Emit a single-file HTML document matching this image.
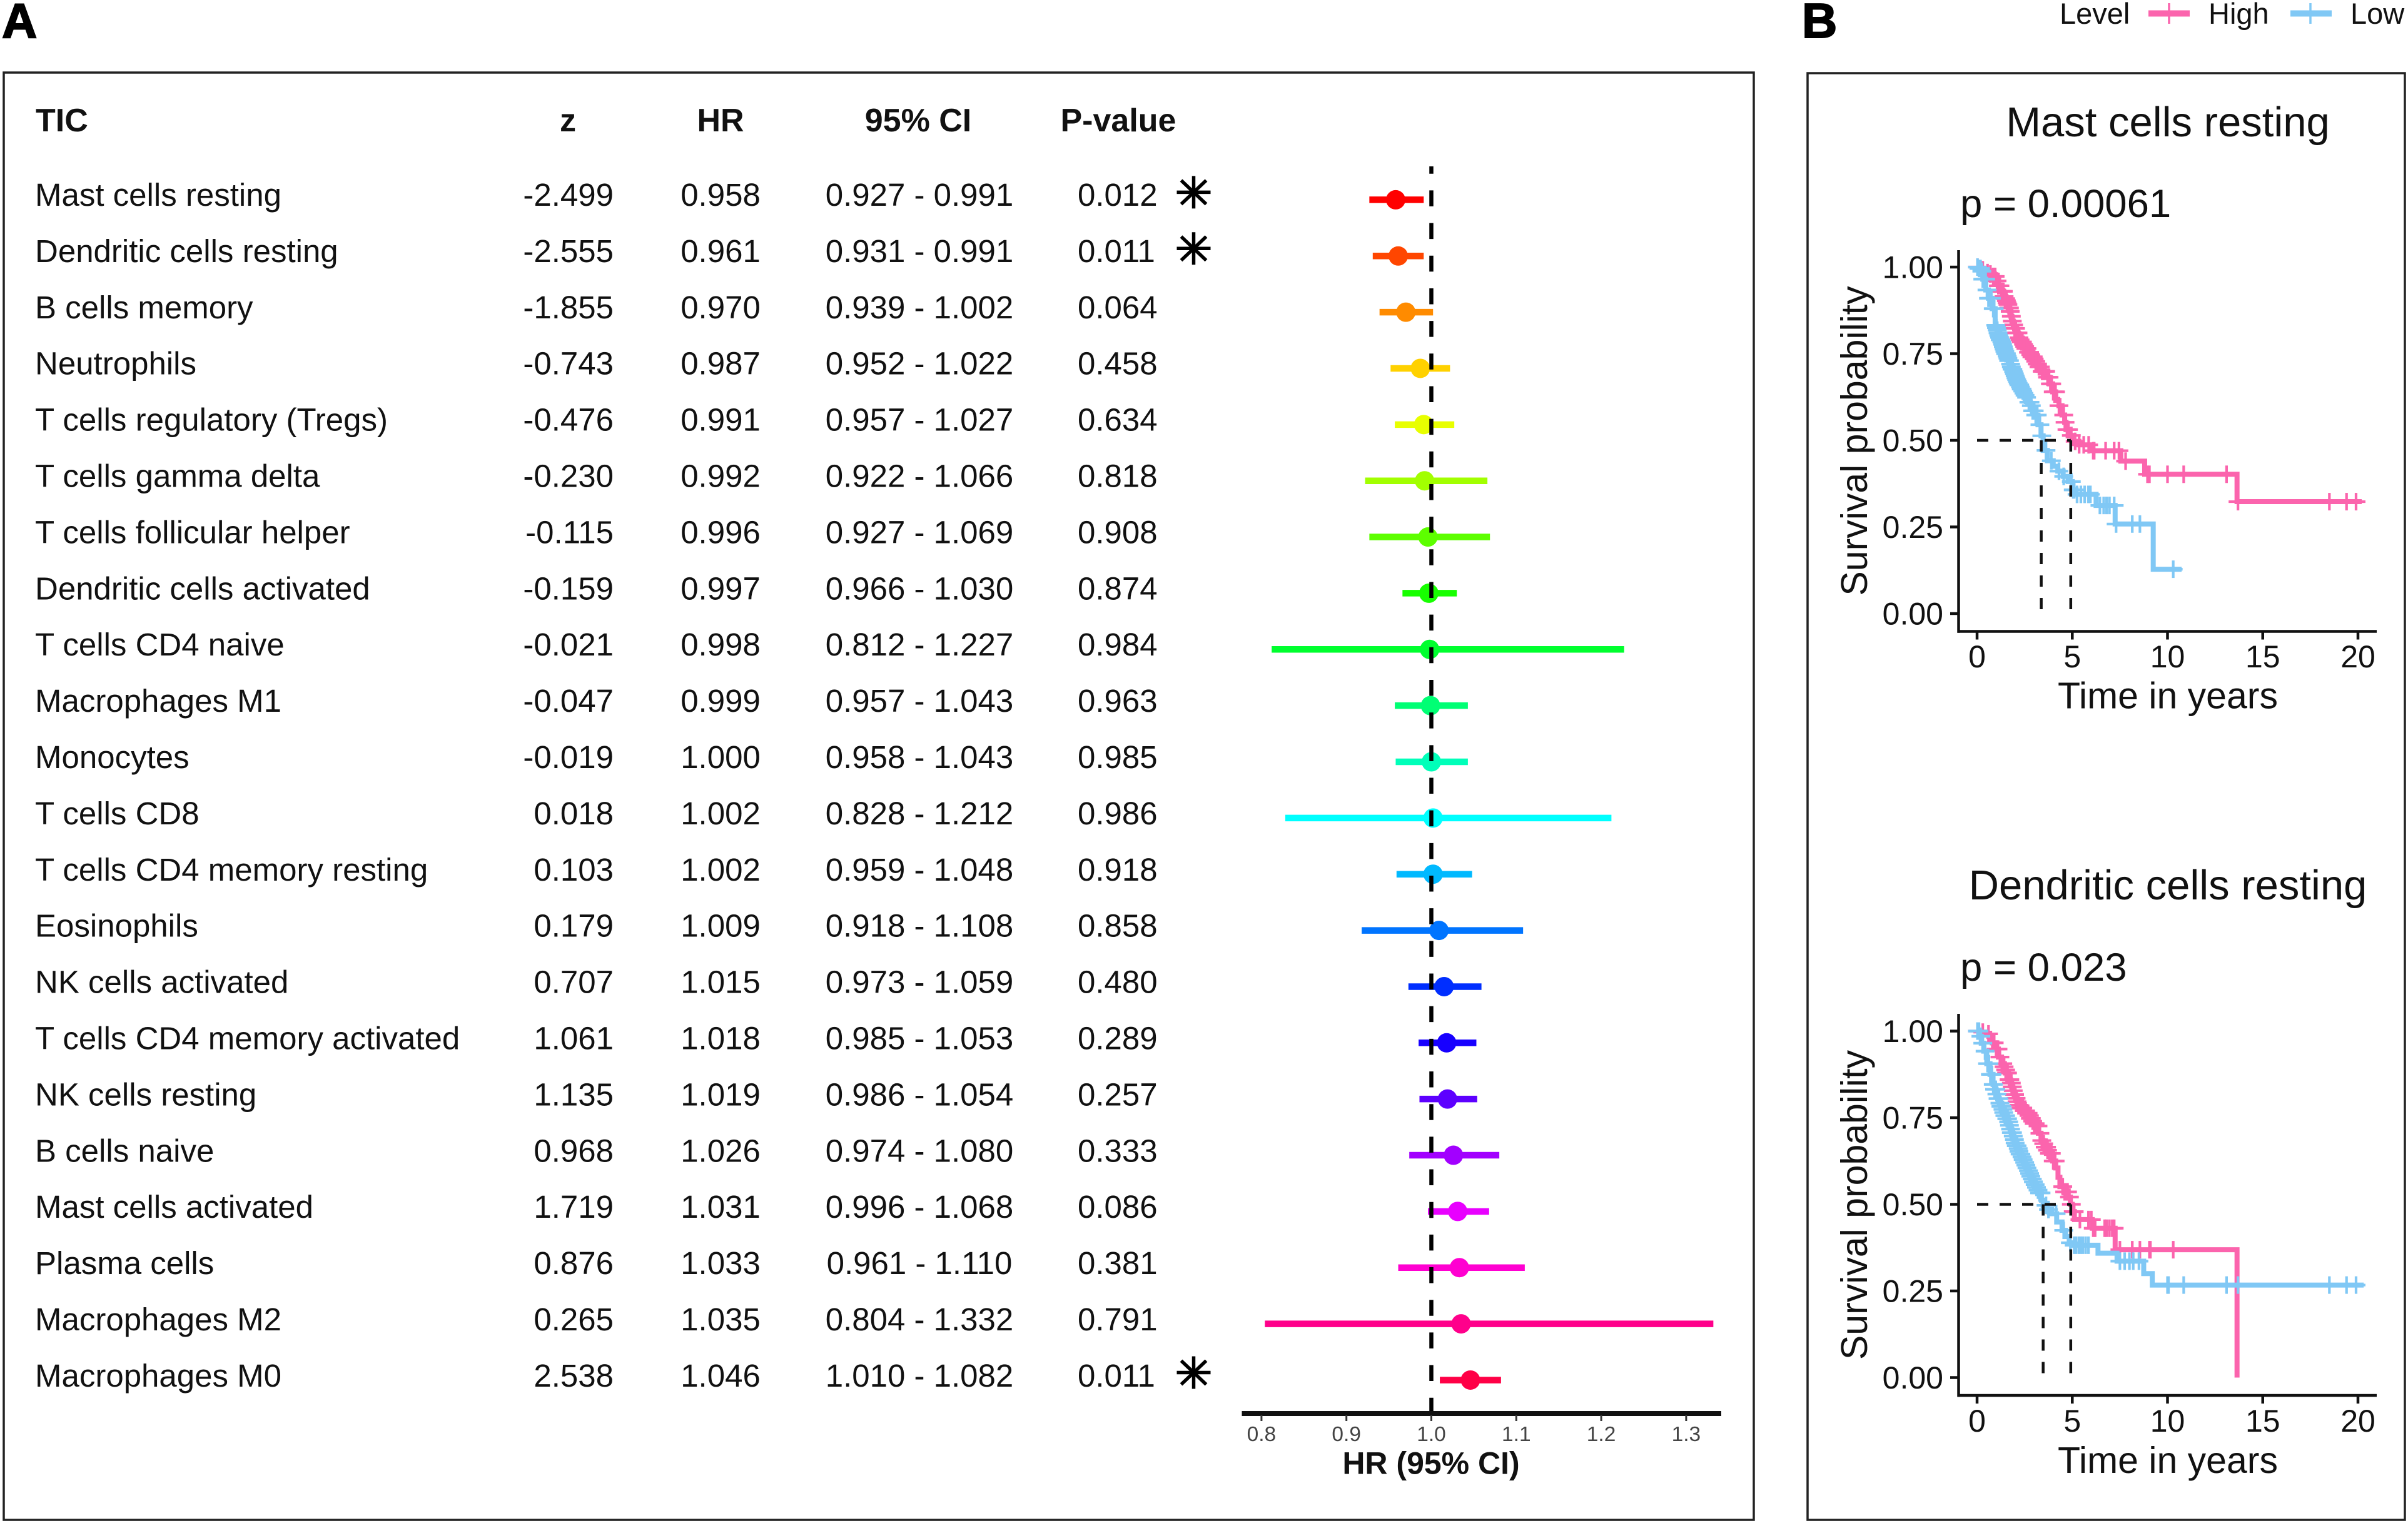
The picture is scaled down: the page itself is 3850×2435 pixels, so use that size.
<!DOCTYPE html>
<html lang="en">
<head>
<meta charset="utf-8">
<title>TIC forest plot and survival curves</title>
<style>
html,body{margin:0;padding:0;background:#fff;}
svg{display:block;font-family:"Liberation Sans",Arial,sans-serif;fill:#000;}
.row-text{font-size:51px;fill:#111;}
.head{font-size:52px;font-weight:700;fill:#111;}
.panel-label{font-size:78px;font-weight:700;stroke:#000;stroke-width:2px;}
.frame{fill:none;stroke:#222;stroke-width:3.5;}
.km-title{font-size:67px;text-anchor:middle;fill:#111;}
.km-p{font-size:63.5px;fill:#111;}
.km-tick{font-size:50px;fill:#111;}
.km-axis-title{font-size:59px;text-anchor:middle;fill:#111;}
.km-y-title{font-size:59px;text-anchor:middle;fill:#111;}
.legend{font-size:47px;fill:#111;}
</style>
</head>
<body>
<svg id="fig" xmlns="http://www.w3.org/2000/svg" width="3850" height="2435" viewBox="0 0 3850 2435">
  <rect x="0" y="0" width="3850" height="2435" fill="#fff"/>
  <text class="panel-label" x="3" y="60">A</text>
  <text class="panel-label" x="2881" y="60">B</text>
  <rect class="frame" x="6" y="116" width="2798" height="2314"/>
  <rect class="frame" x="2890" y="117" width="955" height="2313"/>

  <text class="head" x="57" y="210">TIC</text>
  <text class="head" x="908" y="210" text-anchor="middle">z</text>
  <text class="head" x="1152" y="210" text-anchor="middle">HR</text>
  <text class="head" x="1468" y="210" text-anchor="middle">95% CI</text>
  <text class="head" x="1788" y="210" text-anchor="middle">P-value</text>

  <g id="table"></g>
  <g id="forest"></g>

  <g>
    <text class="legend" x="3293" y="38">Level</text>
    <g>
      <line x1="3435" y1="21.5" x2="3501" y2="21.5" stroke="#FB64AD" stroke-width="10"/>
      <line x1="3468" y1="5" x2="3468" y2="38" stroke="#FB64AD" stroke-width="3.5"/>
    </g>
    <text class="legend" x="3531" y="38">High</text>
    <g>
      <line x1="3662" y1="21.5" x2="3728" y2="21.5" stroke="#80C8F5" stroke-width="10"/>
      <line x1="3694" y1="5" x2="3694" y2="38" stroke="#80C8F5" stroke-width="3.5"/>
    </g>
    <text class="legend" x="3758" y="38">Low</text>
  </g>

  <text class="km-title" x="3466" y="218">Mast cells resting</text>
  <text class="km-p" x="3134" y="347">p = 0.00061</text>
  <text class="km-title" x="3466" y="1438">Dendritic cells resting</text>
  <text class="km-p" x="3134" y="1568">p = 0.023</text>

  <g id="kmMast"></g>
  <g id="kmDend"></g>
</svg>

<script>
/* ---------- Forest table data ---------- */
const cellTypes = ["Mast cells resting","Dendritic cells resting","B cells memory","Neutrophils","T cells regulatory (Tregs)","T cells gamma delta","T cells follicular helper","Dendritic cells activated","T cells CD4 naive","Macrophages M1","Monocytes","T cells CD8","T cells CD4 memory resting","Eosinophils","NK cells activated","T cells CD4 memory activated","NK cells resting","B cells naive","Mast cells activated","Plasma cells","Macrophages M2","Macrophages M0"];
const zScores = [-2.499,-2.555,-1.855,-0.743,-0.476,-0.230,-0.115,-0.159,-0.021,-0.047,-0.019,0.018,0.103,0.179,0.707,1.061,1.135,0.968,1.719,0.876,0.265,2.538];
const hazardRatios = [0.958,0.961,0.970,0.987,0.991,0.992,0.996,0.997,0.998,0.999,1.000,1.002,1.002,1.009,1.015,1.018,1.019,1.026,1.031,1.033,1.035,1.046];
const ciLower = [0.927,0.931,0.939,0.952,0.957,0.922,0.927,0.966,0.812,0.957,0.958,0.828,0.959,0.918,0.973,0.985,0.986,0.974,0.996,0.961,0.804,1.010];
const ciUpper = [0.991,0.991,1.002,1.022,1.027,1.066,1.069,1.030,1.227,1.043,1.043,1.212,1.048,1.108,1.059,1.053,1.054,1.080,1.068,1.110,1.332,1.082];
const pValues = [0.012,0.011,0.064,0.458,0.634,0.818,0.908,0.874,0.984,0.963,0.985,0.986,0.918,0.858,0.480,0.289,0.257,0.333,0.086,0.381,0.791,0.011];
const forestTicks = [0.8,0.9,1.0,1.1,1.2,1.3];
const referenceHR = 1;

/* ---------- Survival data: Mast cells resting ---------- */
const mastHighTimes = [0,0.12,0.28,0.42,0.51,0.65,0.84,0.98,1.12,1.26,1.4,1.46,1.52,1.56,1.61,1.66,1.72,1.78,1.83,1.9,1.97,2.06,2.16,2.24,2.31,2.4,2.48,2.56,2.63,2.7,2.79,2.88,2.96,3.04,3.14,3.25,3.42,3.61,3.8,3.97,4.13,4.3,4.46,4.6,4.67,4.84,5,5.35,6.02,7.55,8.8,13.65,20.2];
const mastHighSurv  = [1,0.996,0.992,0.988,0.984,0.98,0.973,0.96,0.946,0.93,0.915,0.909,0.903,0.897,0.892,0.882,0.872,0.858,0.844,0.833,0.823,0.81,0.796,0.79,0.784,0.777,0.771,0.765,0.76,0.754,0.747,0.741,0.735,0.728,0.72,0.712,0.699,0.682,0.663,0.64,0.615,0.6,0.573,0.552,0.531,0.514,0.497,0.487,0.47,0.44,0.402,0.323,0.323];
const mastHighCensor = [0.02,0.3,0.55,0.7,0.85,0.95,1.05,1.12,1.2,1.28,1.33,1.38,1.42,1.47,1.5,1.54,1.58,1.62,1.66,1.7,1.74,1.8,1.85,1.92,1.97,2.02,2.08,2.15,2.2,2.26,2.32,2.38,2.44,2.5,2.56,2.62,2.7,2.76,2.82,2.88,2.95,3,3.08,3.16,3.25,3.32,3.42,3.5,3.6,3.7,3.78,3.85,3.92,4,4.08,4.12,4.3,4.55,4.62,4.72,4.8,4.95,5.15,5.36,5.6,5.86,6.1,6.15,6.75,7.2,7.45,7.8,8.95,9.05,10,10.85,13.1,13.7,18.5,19.4,19.9];
const mastLowTimes = [0,0.08,0.19,0.3,0.46,0.6,0.79,0.95,1,1.05,1.1,1.14,1.18,1.22,1.28,1.32,1.36,1.42,1.46,1.5,1.56,1.6,1.66,1.72,1.78,1.84,1.9,1.94,1.98,2.02,2.06,2.1,2.16,2.2,2.26,2.32,2.38,2.45,2.52,2.59,2.7,2.8,2.9,3.03,3.2,3.36,3.47,3.69,4,4.24,4.52,4.78,5,5.2,6.25,7.25,9.25,10.74];
const mastLowSurv  = [1,0.996,0.988,0.965,0.934,0.91,0.88,0.832,0.825,0.818,0.81,0.803,0.797,0.79,0.784,0.777,0.77,0.763,0.757,0.75,0.743,0.737,0.73,0.72,0.712,0.705,0.698,0.692,0.686,0.68,0.675,0.67,0.665,0.66,0.654,0.648,0.642,0.636,0.63,0.624,0.61,0.6,0.585,0.573,0.545,0.513,0.471,0.441,0.425,0.411,0.396,0.381,0.357,0.344,0.312,0.2585,0.128,0.128];
const mastLowCensor = [0.02,0.1,0.18,0.25,0.3,0.38,0.45,0.52,0.6,0.75,0.85,0.9,0.98,1.02,1.06,1.1,1.14,1.18,1.22,1.26,1.3,1.34,1.38,1.42,1.46,1.5,1.54,1.58,1.62,1.66,1.7,1.76,1.8,1.84,1.88,1.92,1.96,2,2.04,2.08,2.12,2.16,2.2,2.24,2.28,2.32,2.36,2.4,2.46,2.52,2.6,2.72,2.78,2.85,2.92,3,3.08,3.16,3.3,3.4,3.62,3.9,4.3,4.55,4.95,5.05,5.1,5.25,5.45,5.65,5.85,5.95,6.45,6.65,6.8,6.95,7.2,7.3,8.15,8.55,10.3];
const mastMedians = [3.37,4.92];

/* ---------- Survival data: Dendritic cells resting ---------- */
const dendHighTimes = [0,0.15,0.4,0.62,0.8,0.95,1.12,1.28,1.37,1.45,1.53,1.61,1.68,1.75,1.82,1.88,1.95,2.02,2.09,2.16,2.29,2.42,2.56,2.7,2.8,2.9,3,3.09,3.22,3.36,3.47,3.58,3.69,3.8,3.97,4.13,4.25,4.35,4.55,4.78,4.9,5,5.11,6.05,7.25,13.65];
const dendHighSurv  = [1,0.997,0.992,0.984,0.966,0.948,0.925,0.906,0.897,0.888,0.879,0.87,0.86,0.85,0.839,0.828,0.817,0.806,0.796,0.786,0.778,0.77,0.763,0.756,0.748,0.74,0.733,0.726,0.705,0.684,0.675,0.665,0.656,0.647,0.625,0.605,0.578,0.551,0.536,0.521,0.5,0.479,0.456,0.431,0.369,0];
const dendHighCensor = [0.02,0.3,0.6,0.8,0.9,1,1.1,1.2,1.3,1.35,1.42,1.5,1.55,1.6,1.68,1.72,1.8,1.85,1.9,1.97,2.05,2.1,2.2,2.3,2.35,2.4,2.48,2.55,2.6,2.68,2.75,2.8,2.85,2.92,3,3.05,3.2,3.3,3.4,3.5,3.58,3.65,3.7,3.8,3.9,4,4.1,4.5,4.6,4.7,4.75,4.85,4.95,5.05,5.1,5.4,5.85,6,6.1,6.2,6.7,6.8,6.95,7.1,7.2,7.5,8.15,8.55,9.05,9.1,10.3];
const dendLowTimes = [0,0.12,0.22,0.35,0.51,0.68,0.84,0.92,1,1.08,1.17,1.24,1.31,1.38,1.45,1.53,1.61,1.67,1.74,1.8,1.87,1.93,1.99,2.05,2.12,2.18,2.25,2.32,2.38,2.45,2.52,2.6,2.67,2.74,2.81,2.88,2.95,3.03,3.1,3.18,3.25,3.38,3.47,3.69,3.91,4.18,4.46,4.65,4.84,5,6.35,7.35,8.75,9.2,20.3];
const dendLowSurv  = [1,0.985,0.965,0.942,0.906,0.875,0.846,0.832,0.818,0.805,0.792,0.783,0.774,0.765,0.756,0.747,0.738,0.728,0.717,0.707,0.697,0.687,0.677,0.669,0.661,0.653,0.645,0.637,0.629,0.621,0.613,0.605,0.597,0.589,0.581,0.573,0.565,0.557,0.549,0.541,0.533,0.512,0.497,0.485,0.473,0.449,0.425,0.407,0.389,0.382,0.359,0.336,0.3,0.267,0.267];
const dendLowCensor = [0.02,0.1,0.2,0.3,0.42,0.55,0.62,0.7,0.78,0.85,0.92,0.98,1.04,1.1,1.15,1.2,1.25,1.3,1.36,1.4,1.46,1.5,1.56,1.6,1.66,1.7,1.76,1.8,1.86,1.9,1.96,2,2.06,2.1,2.16,2.2,2.26,2.3,2.36,2.42,2.5,2.56,2.62,2.7,2.76,2.82,2.9,2.96,3.05,3.12,3.2,3.28,3.36,3.62,3.75,4.15,4.55,4.9,5.1,5.2,5.35,5.45,5.55,5.7,5.85,7.5,7.75,8,8.2,8.5,10,10.05,10.85,13.1,13.7,18.5,19.4,19.9];
const dendMedians = [3.47,4.92];

/* ---------- Shared survival axis labels ---------- */
const survivalYTicks = [0,0.25,0.5,0.75,1];
const survivalXTicks = [0,5,10,15,20];
const medianLevel = 0.5;

/* ---------- Helpers ---------- */
const NS = 'http://www.w3.org/2000/svg';
function mk(tag, attrs, parent) {
  const el = document.createElementNS(NS, tag);
  for (const k in attrs) el.setAttribute(k, attrs[k]);
  parent.appendChild(el);
  return el;
}

/* ---------- Forest axis functions ---------- */
const forestX = v => 2288.5 + (v - 1) * 1358;
const rowBaseline = i => 329 + 89.9 * i;
const rowMarkY = i => 319.4 + 89.86 * i;
const rowColor = i => 'hsl(' + (i * 360 / cellTypes.length) + ',100%,50%)';

/* ---------- Table ---------- */
const tableG = document.getElementById('table');
cellTypes.forEach((name, i) => {
  const y = rowBaseline(i);
  let el = mk('text', {class:'row-text', x:56, y:y}, tableG);
  el.textContent = name;
  
  

  el = mk('text', {class:'row-text', x:981, y:y, 'text-anchor':'end'}, tableG);
  el.textContent = zScores[i].toFixed(3);
  
  

  el = mk('text', {class:'row-text', x:1152, y:y, 'text-anchor':'middle'}, tableG);
  el.textContent = hazardRatios[i].toFixed(3);
  
  

  el = mk('text', {class:'row-text', x:1470, y:y, 'text-anchor':'middle'}, tableG);
  el.textContent = ciLower[i].toFixed(3) + ' - ' + ciUpper[i].toFixed(3);
  
  

  el = mk('text', {class:'row-text', x:1723, y:y}, tableG);
  el.textContent = pValues[i].toFixed(3);
  
  

  if (pValues[i] < 0.05) {
    const star = mk('g', {stroke:'#000', 'stroke-width':5.5}, tableG);
    
    
    const cx = 1908.5, cy = rowMarkY(i) - 12;
    mk('line', {x1:cx, y1:cy-26, x2:cx, y2:cy+26}, star);
    mk('line', {x1:cx-27, y1:cy, x2:cx+27, y2:cy}, star);
    mk('line', {x1:cx-20, y1:cy-19, x2:cx+20, y2:cy+19}, star);
    mk('line', {x1:cx-20, y1:cy+19, x2:cx+20, y2:cy-19}, star);
  }
});

/* ---------- Forest plot ---------- */
const forestG = document.getElementById('forest');
cellTypes.forEach((name, i) => {
  const y = rowMarkY(i);
  let el = mk('line', {x1:forestX(ciLower[i]), y1:y, x2:forestX(ciUpper[i]), y2:y, stroke:rowColor(i), 'stroke-width':10.5}, forestG);
  
  
  el = mk('circle', {cx:forestX(hazardRatios[i]), cy:y, r:15.5, fill:rowColor(i)}, forestG);
  
  
});
{
  const period = 52.17, dash = 25.5, first = 356.6, top = 266;
  const offset = period - ((first - top) % period);
  const ref = mk('line', {x1:forestX(referenceHR), y1:top, x2:forestX(referenceHR), y2:2258, stroke:'#000', 'stroke-width':6.5,
    'stroke-dasharray':dash + ' ' + (period - dash), 'stroke-dashoffset':offset}, forestG);
  
  
  const axis = mk('line', {x1:1985.5, y1:2260, x2:2752, y2:2260, stroke:'#111', 'stroke-width':8}, forestG);
  
  
  forestTicks.forEach(t => {
    const tick = mk('line', {x1:forestX(t), y1:2262, x2:forestX(t), y2:2272, stroke:'#333', 'stroke-width':3}, forestG);
    
    
    const lab = mk('text', {x:forestX(t), y:2304, 'text-anchor':'middle', 'font-size':33.5, fill:'#444'}, forestG);
    lab.textContent = t.toFixed(1);
    
    
  });
  const title = mk('text', {x:2288, y:2356.5, 'text-anchor':'middle', 'font-size':50, 'font-weight':700, fill:'#111'}, forestG);
  title.textContent = 'HR (95% CI)';
  
  
}

/* ---------- Survival plots ---------- */
const HIGH = '#FB64AD', LOW = '#80C8F5';
const kmX = t => 3161 + t * 30.45;

function survAt(times, surv, t) {
  let s = surv[0];
  for (let i = 0; i < times.length; i++) { if (times[i] <= t) s = surv[i]; }
  return s;
}

function drawSeries(parent, kmY, times, surv, censor, color, label) {
  let d = 'M' + kmX(times[0]) + ' ' + kmY(surv[0]);
  for (let i = 1; i < times.length; i++) {
    d += 'H' + kmX(times[i]) + 'V' + kmY(surv[i]);
  }
  const line = mk('path', {d:d, fill:'none', stroke:color, 'stroke-width':8}, parent);
  
  
  const marks = mk('g', {stroke:color, 'stroke-width':4.2}, parent);
  
  
  censor.forEach(c => {
    const x = kmX(c), y = kmY(survAt(times, surv, c));
    mk('line', {x1:x-15, y1:y, x2:x+15, y2:y}, marks);
    mk('line', {x1:x, y1:y-14, x2:x, y2:y+14}, marks);
  });
}

function drawSurvival(id, frame, high, low, medians) {
  const g = document.getElementById(id);
  const kmY = s => frame.y0 - 554 * s;

  drawSeries(g, kmY, high.t, high.s, high.c, HIGH, 'high');
  drawSeries(g, kmY, low.t, low.s, low.c, LOW, 'low');

  const medG = mk('g', {stroke:'#111', fill:'none', 'stroke-width':4.5, 'stroke-dasharray':'18 18'}, g);
  
  
  mk('line', {x1:kmX(0), y1:kmY(medianLevel), x2:kmX(Math.max(...medians)), y2:kmY(medianLevel)}, medG);
  medians.forEach(m => {
    mk('line', {x1:kmX(m), y1:kmY(medianLevel), x2:kmX(m), y2:kmY(0)}, medG);
  });

  let el = mk('line', {x1:3131.5, y1:frame.top, x2:3131.5, y2:frame.bottom + 2.25, stroke:'#111', 'stroke-width':4.5}, g);
  
  
  el = mk('line', {x1:3129.5, y1:frame.bottom, x2:3800, y2:frame.bottom, stroke:'#111', 'stroke-width':4.5}, g);
  
  

  survivalYTicks.forEach(v => {
    const y = kmY(v);
    const tick = mk('line', {x1:3118, y1:y, x2:3131.5, y2:y, stroke:'#111', 'stroke-width':4.5}, g);
    
    
    const lab = mk('text', {class:'km-tick', x:3107, y:y + 17.5, 'text-anchor':'end'}, g);
    lab.textContent = v.toFixed(2);
    
    
  });
  survivalXTicks.forEach(v => {
    const x = kmX(v);
    const tick = mk('line', {x1:x, y1:frame.bottom, x2:x, y2:frame.bottom + 13, stroke:'#111', 'stroke-width':4.5}, g);
    
    
    const lab = mk('text', {class:'km-tick', x:x, y:frame.xLabel, 'text-anchor':'middle'}, g);
    lab.textContent = String(v);
    
    
  });

  el = mk('text', {class:'km-axis-title', x:3466, y:frame.xTitle}, g);
  el.textContent = 'Time in years';
  
  
  const cy = kmY(medianLevel) + 1;
  el = mk('text', {class:'km-y-title', x:2985, y:cy, transform:'rotate(-90 2985 ' + cy + ')'}, g);
  el.textContent = 'Survival probability';
  
  
}

drawSurvival('kmMast',
  {y0:981, top:400, bottom:1009.5, xLabel:1067, xTitle:1132.5},
  {t:mastHighTimes, s:mastHighSurv, c:mastHighCensor},
  {t:mastLowTimes, s:mastLowSurv, c:mastLowCensor},
  mastMedians);
drawSurvival('kmDend',
  {y0:2202.5, top:1621, bottom:2231, xLabel:2289, xTitle:2355},
  {t:dendHighTimes, s:dendHighSurv, c:dendHighCensor},
  {t:dendLowTimes, s:dendLowSurv, c:dendLowCensor},
  dendMedians);
</script>
</body>
</html>
